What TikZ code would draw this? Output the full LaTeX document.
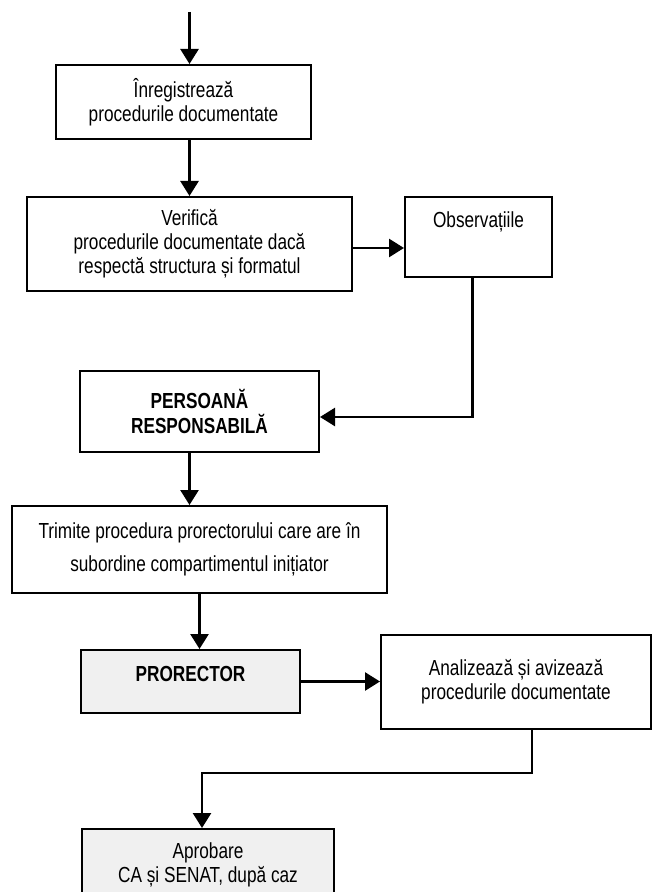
\documentclass[tikz,border=0pt]{standalone}
\usepackage{fontspec}
\setmainfont{Liberation Sans}[FakeStretch=0.79]
\usetikzlibrary{arrows.meta}

\begin{document}
\begin{tikzpicture}[x=0.5pt,y=-0.5pt,
    blok/.style={draw,line width=1pt,inner sep=0pt,align=center,
      font=\fontsize{10.9}{12}\selectfont},
    grijs/.style={blok,fill=black!6},
    pijl/.style={line width=1.3pt,-{Triangle[length=7.5pt,width=9pt]}}]
  \useasboundingbox (0,0) rectangle (652,892);

  % Blokken
  \node[blok,minimum width=127.5pt,minimum height=37pt] (inreg) at (183.5,102)
    {Înregistrează\\procedurile documentate};
  \node[blok,minimum width=162.5pt,minimum height=47pt] (verif) at (189.5,244)
    {Verifică\\procedurile documentate dacă\\respectă structura și formatul};
  \node[blok,minimum width=73.5pt,minimum height=40pt,text depth=17pt] (obs) at (478.5,237)
    {Observațiile};
  \node[blok,minimum width=119.5pt,minimum height=40.5pt,font=\fontsize{10.9}{12.5}\selectfont\bfseries] (pers) at (199.5,411.5)
    {PERSOANĂ\\RESPONSABILĂ};
  \node[blok,minimum width=187.5pt,minimum height=43.5pt,font=\fontsize{10.9}{16.5}\selectfont] (trim) at (199.5,549.5)
    {Trimite procedura prorectorului care are în\\subordine compartimentul inițiator};
  \node[grijs,minimum width=109.5pt,minimum height=31.5pt,text depth=8pt,font=\fontsize{10.9}{12}\selectfont\bfseries] (pror) at (190.5,681.5)
    {PRORECTOR};
  \node[blok,minimum width=135pt,minimum height=47pt] (anal) at (516,682)
    {Analizează și avizează\\procedurile documentate};
  \node[grijs,minimum width=126pt,minimum height=36pt] (aprob) at (208,865)
    {Aprobare\\CA și SENAT, după caz};

  % Pijlen
  \coordinate (start) at (189.5,12);
  \draw[pijl] (start) -- (start |- inreg.north);
  \draw[pijl] (inreg.south -| verif.north) -- (verif.north);
  \draw[pijl] ([yshift=-2pt]verif.east) -- ([yshift=-2pt]verif.east -| obs.west);
  \draw[pijl] ([xshift=-3pt]obs.south) |- ([yshift=-2.75pt]pers.east);
  \draw[pijl] (pers.south -| start) -- (trim.north -| start);
  \draw[pijl] (trim.south) -- (trim.south |- pror.north);
  \draw[pijl] (pror.east) -- (pror.east -| anal.west);
  \draw[pijl] ([xshift=8pt]anal.south) -- ++(0,43) -| ([xshift=-3pt]aprob.north);
\end{tikzpicture}
\end{document}
